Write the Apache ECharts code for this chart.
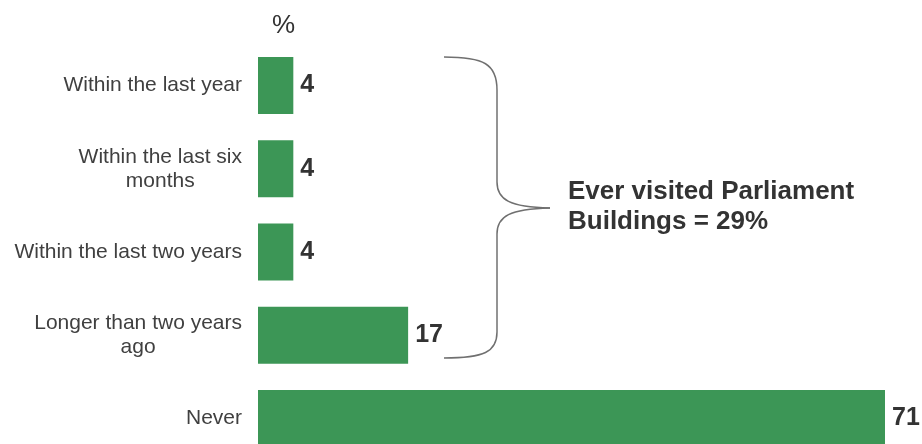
<!DOCTYPE html>
<html>
<head>
<meta charset="utf-8">
<script src="https://cdn.jsdelivr.net/npm/echarts@6/dist/echarts.min.js"></script>
<style>html,body{margin:0;padding:0;background:#fff}#c{width:922px;height:444px}</style>
</head>
<body>
<div id="c"></div>
<script>
const categories = ['Within the last year', 'Within the last six\nmonths', 'Within the last two years', 'Longer than two years\nago', 'Never'];
const values = [4, 4, 4, 17, 71];
const unitLabel = '%';
const braceLabel = 'Ever visited Parliament\nBuildings = 29%';

const FONT = '"Liberation Sans", Arial, sans-serif';
const braceStyle = { fill: 'none', stroke: '#707070', lineWidth: 1.5 };
function bez(x1, y1, c1x, c1y, c2x, c2y, x2, y2) {
  return { type: 'bezierCurve', shape: { x1: x1, y1: y1, cpx1: c1x, cpy1: c1y, cpx2: c2x, cpy2: c2y, x2: x2, y2: y2 }, style: braceStyle };
}
function ln(x1, y1, x2, y2) {
  return { type: 'line', shape: { x1: x1, y1: y1, x2: x2, y2: y2 }, style: braceStyle };
}

const chart = echarts.init(document.getElementById('c'));
chart.setOption({
  animation: false,
  grid: { left: 258, top: 44, width: 627, height: 416, containLabel: false, outerBoundsMode: 'none' },
  xAxis: { type: 'value', min: 0, max: 71, show: false },
  yAxis: {
    type: 'category', data: categories, inverse: true,
    axisLine: { show: false }, axisTick: { show: false },
    axisLabel: {
      margin: 16, color: '#404040', fontSize: 21, fontFamily: FONT,
      lineHeight: 24,
      formatter: function (v) {
        const parts = v.split('\n');
        if (parts.length === 1) return v;
        return '{a|' + parts[0] + '}\n{c|' + parts[1] + '}';
      },
      rich: {
        a: { color: '#404040', fontSize: 21, lineHeight: 24, fontFamily: FONT },
        c: { color: '#404040', fontSize: 21, lineHeight: 24, align: 'center', fontFamily: FONT }
      }
    }
  },
  series: [{
    type: 'bar', data: values, barWidth: 57,
    itemStyle: { color: '#3c9656' },
    label: {
      show: true, position: 'right', distance: 7,
      color: '#333', fontSize: 25, fontWeight: 'bold', fontFamily: FONT
    }
  }],
  graphic: [
    { type: 'text', left: 272, top: 13, style: { text: unitLabel, fontSize: 26, fill: '#333', fontFamily: FONT } },
    bez(444, 57, 484, 57, 497, 64, 497, 90),
    ln(497, 90, 497, 182),
    bez(497, 182, 497, 200, 510, 207, 550, 208),
    bez(550, 208, 510, 209, 497, 216, 497, 234),
    ln(497, 234, 497, 332),
    bez(497, 332, 497, 352, 484, 358, 444, 358),
    { type: 'text', left: 568, top: 177, style: { text: braceLabel, fontSize: 26, fontWeight: 'bold', lineHeight: 30, fill: '#333', fontFamily: FONT } }
  ]
});
</script>
</body>
</html>
